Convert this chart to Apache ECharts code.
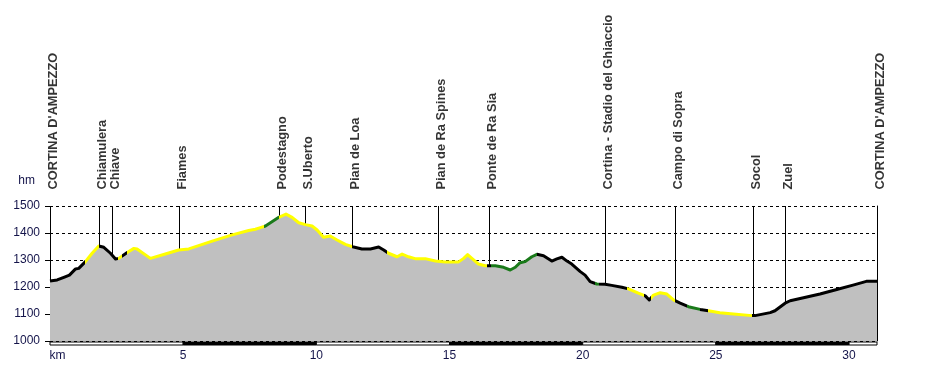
<!DOCTYPE html>
<html>
<head>
<meta charset="utf-8">
<script src="https://cdn.jsdelivr.net/npm/echarts@6/dist/echarts.min.js"></script>
<style>
html,body{margin:0;padding:0;background:#fff;}
#c{width:927px;height:370px;}
</style>
</head>
<body>
<div id="c"></div>
<script>
// Profile (km, elevation m)
const kmValues = [0,0.27,0.52,0.73,0.96,1.08,1.33,1.58,1.83,2.02,2.27,2.46,2.58,2.9,3.15,3.27,3.77,4.33,4.83,5.21,6.09,6.84,7.46,7.71,7.9,8.09,8.59,8.86,9.09,9.34,9.59,9.84,10.03,10.27,10.52,10.78,11.09,11.36,11.71,12.03,12.34,12.53,12.71,13.03,13.22,13.46,13.71,14.09,14.47,14.84,15.34,15.53,15.68,15.84,16.09,16.34,16.72,17.03,17.28,17.47,17.65,17.84,18.09,18.28,18.53,18.84,19.03,19.22,19.41,19.59,19.91,20.09,20.28,20.53,20.84,21.09,21.47,21.72,22.09,22.35,22.5,22.66,22.91,23.16,23.41,23.66,23.97,24.41,24.72,25.15,25.66,26.35,26.47,27.04,27.22,27.6,27.79,28.29,28.91,29.54,30.15,30.65,31.05];
const elevations = [1222,1226,1236,1244,1267,1269,1294,1325,1352,1347,1325,1304,1306,1328,1343,1341,1306,1322,1337,1341,1370,1393,1409,1414,1420,1426,1458,1470,1458,1438,1431,1426,1411,1384,1389,1374,1358,1349,1341,1341,1348,1337,1325,1312,1322,1312,1305,1305,1296,1293,1293,1306,1320,1306,1285,1279,1279,1273,1263,1273,1290,1294,1312,1321,1316,1296,1304,1310,1296,1285,1257,1244,1220,1211,1210,1206,1199,1193,1177,1167,1152,1170,1179,1174,1152,1140,1127,1117,1112,1105,1100,1094,1094,1105,1112,1140,1149,1160,1174,1191,1207,1221,1221];

// Path surface sections along the route
const segStarts = [0,1.30,1.85,2.55,2.70,2.88,8.05,8.60,11.35,12.65,16.42,16.55,18.30,20.45,20.60,21.65,22.30,22.55,23.45,23.90,24.40,24.72,26.35];
const segEnds   = [1.30,1.85,2.55,2.70,2.88,8.05,8.60,11.35,12.65,16.42,16.55,18.30,20.45,20.60,21.65,22.30,22.55,23.45,23.90,24.40,24.72,26.35,31.10];
const segColors = ['#000','#ffff00','#000','#ffff00','#000','#ffff00','#1a7a1a','#ffff00','#000','#ffff00','#000','#1a7a1a','#000','#1a7a1a','#000','#ffff00','#000','#ffff00','#000','#1a7a1a','#000','#ffff00','#000'];

// Waypoints
const stationNames = ["CORTINA D'AMPEZZO","Chiamulera","Chiave","Fiames","Podestagno","S.Uberto","Pian de Loa","Pian de Ra Spines","Ponte de Ra Sia","Cortina - Stadio del Ghiaccio","Campo di Sopra","Socol","Zuel","CORTINA D'AMPEZZO"];
const stationKm = [0,1.86,2.35,4.86,8.61,9.59,11.35,14.58,16.49,20.84,23.47,26.40,27.60,31.05];

// Axis ticks
const xTickLabels = ['km','5','10','15','20','25','30'];
const yTicks = [1000,1100,1200,1300,1400,1500];
const scaleKm = [0,5,10,15,20,25,30,31.05];

const FONT = 'Liberation Sans';
const LBL = '#14144a';

const profile = kmValues.map((k,i)=>[k, elevations[i]]);
const pieces = segStarts.map((s,i)=>({gte:s, lt:segEnds[i], color:segColors[i]}));
const scaleData = scaleKm.slice(0,-1).map((s,i)=>[s, scaleKm[i+1], i]);

const chart = echarts.init(document.getElementById('c'), null, {renderer:'canvas'});
chart.setOption({
  animation:false,
  backgroundColor:'#fff',
  grid:{left:50,right:50,top:206,bottom:29,containLabel:false},
  xAxis:{
    type:'value', min:0, max:31.05, interval:5,
    axisLine:{show:false}, axisTick:{show:false}, splitLine:{show:false},
    axisLabel:{margin:9, color:LBL, fontFamily:FONT, fontSize:12, showMaxLabel:false,
      rich:{k:{color:LBL, fontFamily:FONT, fontSize:12, padding:[0,0,0,15]}},
      formatter:v=>{const i=Math.round(v/5); if(Math.abs(v-i*5)>1e-6 || xTickLabels[i]===undefined) return ''; return i===0 ? '{k|'+xTickLabels[0]+'}' : xTickLabels[i];}}
  },
  yAxis:[{
    type:'value', min:yTicks[0], max:yTicks[yTicks.length-1], interval:100,
    name:'hm', nameLocation:'end', nameGap:19,
    nameTextStyle:{color:LBL, fontFamily:FONT, fontSize:12, align:'right', padding:[0,15,0,0]},
    axisLine:{show:false},
    axisTick:{show:true, length:5, lineStyle:{color:'#000'}},
    axisLabel:{margin:10, color:LBL, fontFamily:FONT, fontSize:12, formatter:v=>String(v)},
    splitLine:{show:true, lineStyle:{color:'#000', type:[3,3], width:1}}
  },{
    type:'value', min:yTicks[0], max:yTicks[yTicks.length-1], position:'right',
    axisLine:{show:true, lineStyle:{color:'#000', width:1}},
    axisTick:{show:false}, axisLabel:{show:false}, splitLine:{show:false}
  }],
  visualMap:{type:'piecewise', show:false, dimension:0, seriesIndex:2, pieces:pieces, outOfRange:{color:'#000'}},
  series:[
    {
      type:'scatter', z:1,
      data:stationKm.map((k,i)=>[k, 1500, stationNames[i]]),
      symbol:'circle', symbolSize:1, itemStyle:{color:'rgba(0,0,0,0)'},
      label:{show:true, position:[3.5,-16], rotate:90, align:'left', verticalAlign:'middle',
        formatter:p=>p.value[2], color:'#000', fontFamily:FONT, fontSize:12.8, fontWeight:'bold'},
      markLine:{z:1, silent:true, symbol:['none','none'], label:{show:false},
        lineStyle:{color:'#000', width:1, type:'solid'},
        data:stationKm.map(k=>({xAxis:k}))}
    },
    {
      type:'line', z:10, data:profile, showSymbol:false, symbol:'none',
      lineStyle:{width:0, opacity:0},
      areaStyle:{color:'#c0c0c0', opacity:1, origin:'start'}
    },
    {
      type:'line', z:12, data:profile, showSymbol:false, symbol:'none',
      lineStyle:{width:3, cap:'butt', join:'round'}
    },
    {
      type:'custom', z:12, clip:false, data:scaleData,
      renderItem:(params, api)=>{
        const p0 = api.coord([api.value(0), 1000]);
        const p1 = api.coord([api.value(1), 1000]);
        const idx = api.value(2);
        return {type:'rect', shape:{x:p0[0], y:p0[1]+1, width:p1[0]-p0[0], height:3},
          style:{fill: idx%2===0 ? '#fff' : '#000', stroke:'#000', lineWidth:1}};
      }
    }
  ]
});
</script>
</body>
</html>
